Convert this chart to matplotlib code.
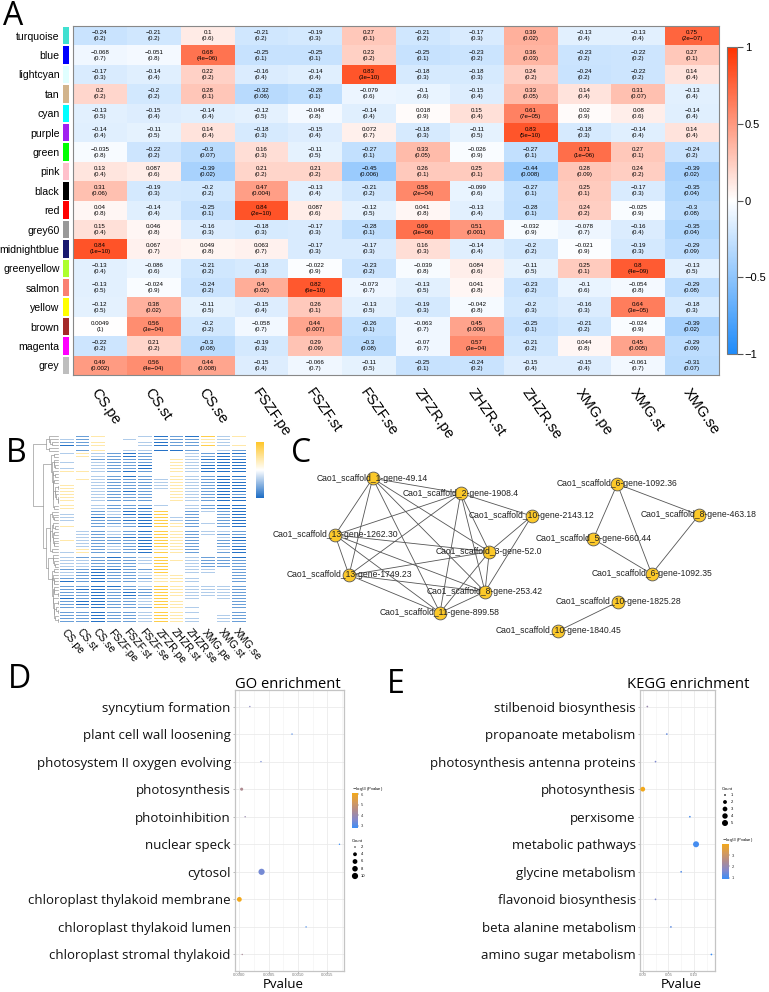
import numpy as np
import matplotlib
matplotlib.use("Agg")
import matplotlib.pyplot as plt
from matplotlib.colors import LinearSegmentedColormap, Normalize
from matplotlib.cm import ScalarMappable

plt.rcParams['font.family'] = ['Liberation Sans', 'DejaVu Sans']

# ---------------- Panel A data ----------------
modules = ["turquoise", "blue", "lightcyan", "tan", "cyan", "purple", "green", "pink", "black",
           "red", "grey60", "midnightblue", "greenyellow", "salmon", "yellow", "brown", "magenta", "grey"]
module_colors = ["#40E0D0", "#0000FF", "#E0FFFF", "#D2B48C", "#00FFFF", "#A020F0", "#00FF00", "#FFC0CB",
                 "#000000", "#FF0000", "#999999", "#191970", "#ADFF2F", "#FA8072", "#FFFF00", "#A52A2A",
                 "#FF00FF", "#BEBEBE"]
traits = ["CS.pe", "CS.st", "CS.se", "FSZF.pe", "FSZF.st", "FSZF.se",
          "ZFZR.pe", "ZHZR.st", "ZHZR.se", "XMG.pe", "XMG.st", "XMG.se"]
cor = [
    [-0.24, -0.21, 0.1, -0.21, -0.19, 0.27, -0.21, -0.17, 0.39, -0.13, -0.13, 0.75],
    [-0.068, -0.051, 0.68, -0.25, -0.25, 0.23, -0.25, -0.23, 0.36, -0.23, -0.22, 0.27],
    [-0.17, -0.14, 0.22, -0.16, -0.14, 0.83, -0.18, -0.18, 0.24, -0.24, -0.22, 0.14],
    [0.2, -0.2, 0.28, -0.32, -0.28, -0.079, -0.1, -0.15, 0.33, 0.14, 0.31, -0.13],
    [-0.13, -0.15, -0.14, -0.12, -0.048, -0.14, 0.018, 0.15, 0.61, 0.02, 0.08, -0.14],
    [-0.14, -0.11, 0.14, -0.18, -0.15, 0.072, -0.18, -0.11, 0.83, -0.18, -0.14, 0.14],
    [-0.035, -0.22, -0.3, 0.16, -0.11, -0.27, 0.33, -0.026, -0.27, 0.71, 0.27, -0.24],
    [0.13, 0.087, -0.39, 0.21, 0.21, -0.45, 0.26, 0.25, -0.44, 0.28, 0.24, -0.39],
    [0.31, -0.19, -0.2, 0.47, -0.13, -0.21, 0.58, -0.099, -0.27, 0.25, -0.17, -0.35],
    [0.04, -0.14, -0.25, 0.84, 0.087, -0.12, 0.041, -0.13, -0.28, 0.24, -0.025, -0.3],
    [0.15, 0.046, -0.16, -0.18, -0.17, -0.28, 0.69, 0.51, -0.032, -0.078, -0.16, -0.35],
    [0.84, 0.067, 0.049, 0.063, -0.17, -0.17, 0.16, -0.14, -0.2, -0.021, -0.19, -0.29],
    [-0.13, -0.086, -0.21, -0.18, -0.022, -0.23, -0.039, 0.084, -0.11, 0.25, 0.8, -0.13],
    [-0.13, -0.024, -0.24, 0.4, 0.82, -0.073, -0.13, 0.041, -0.23, -0.1, -0.054, -0.29],
    [-0.12, 0.38, -0.11, -0.15, 0.26, -0.13, -0.19, -0.042, -0.2, -0.16, 0.64, -0.18],
    [0.0049, 0.56, -0.2, -0.058, 0.44, -0.26, -0.063, 0.45, -0.25, -0.21, -0.024, -0.39],
    [-0.22, 0.21, -0.3, -0.19, 0.29, -0.3, -0.07, 0.57, -0.21, 0.044, 0.45, -0.29],
    [0.49, 0.56, 0.44, -0.15, -0.066, -0.11, -0.25, -0.24, -0.15, -0.15, -0.061, -0.31],
]
pval = [
    ["0.2", "0.2", "0.6", "0.2", "0.3", "0.1", "0.2", "0.3", "0.02", "0.4", "0.4", "2e-07"],
    ["0.7", "0.8", "4e-06", "0.1", "0.1", "0.2", "0.1", "0.2", "0.03", "0.2", "0.2", "0.1"],
    ["0.3", "0.4", "0.2", "0.4", "0.4", "3e-10", "0.3", "0.3", "0.2", "0.2", "0.2", "0.4"],
    ["0.2", "0.2", "0.1", "0.06", "0.1", "0.6", "0.6", "0.4", "0.05", "0.4", "0.07", "0.4"],
    ["0.5", "0.4", "0.4", "0.5", "0.8", "0.4", "0.9", "0.4", "7e-05", "0.9", "0.6", "0.4"],
    ["0.4", "0.5", "0.4", "0.3", "0.4", "0.7", "0.3", "0.5", "5e-10", "0.3", "0.4", "0.4"],
    ["0.8", "0.2", "0.07", "0.3", "0.5", "0.1", "0.05", "0.9", "0.1", "1e-06", "0.1", "0.2"],
    ["0.4", "0.6", "0.02", "0.2", "0.2", "0.006", "0.1", "0.1", "0.008", "0.09", "0.2", "0.02"],
    ["0.06", "0.3", "0.2", "0.004", "0.4", "0.2", "2e-04", "0.6", "0.1", "0.1", "0.3", "0.04"],
    ["0.8", "0.4", "0.1", "2e-10", "0.6", "0.5", "0.8", "0.4", "0.1", "0.2", "0.9", "0.08"],
    ["0.4", "0.8", "0.3", "0.3", "0.3", "0.1", "3e-06", "0.001", "0.9", "0.7", "0.4", "0.04"],
    ["1e-10", "0.7", "0.8", "0.7", "0.3", "0.3", "0.3", "0.4", "0.2", "0.9", "0.3", "0.09"],
    ["0.4", "0.6", "0.2", "0.3", "0.9", "0.2", "0.8", "0.6", "0.5", "0.1", "4e-09", "0.5"],
    ["0.5", "0.9", "0.2", "0.02", "6e-10", "0.7", "0.5", "0.8", "0.2", "0.6", "0.8", "0.08"],
    ["0.5", "0.02", "0.5", "0.4", "0.1", "0.5", "0.3", "0.8", "0.3", "0.3", "3e-05", "0.3"],
    ["1", "3e-04", "0.2", "0.7", "0.007", "0.1", "0.7", "0.006", "0.1", "0.2", "0.9", "0.02"],
    ["0.2", "0.2", "0.08", "0.3", "0.09", "0.08", "0.7", "3e-04", "0.2", "0.8", "0.005", "0.09"],
    ["0.002", "4e-04", "0.008", "0.4", "0.7", "0.5", "0.1", "0.2", "0.4", "0.4", "0.7", "0.07"],
]

# ---------------- Panel B data (expression levels read per row) ----------------
# Y strong yellow, y light yellow, w white, l light blue, m blue, b dark blue
b_cols = traits
b_rows = [
    "ywmlmbYymwmb", "wwmmmbYymlmb", "wymlmbyymwlb", "lwmlbbYwmwmb", "wlmmmbYymwmm",
    "ywmlmbYymlmb", "wlmmbbYymwlb", "lwbmmbYlmwmb", "wlmlmbYymllm", "ylmmmbYymwmb",
    "wwmlbmYwmlmb", "lymmmbYymwmb", "wlmlmmYymlmm", "lwmmbbYlmwmb", "wlmlmbYymwmb",
    "llmmmlYwlmmm", "lmmbmlYwlmmb", "llmmmlYylmmm", "mlbmmlYwlmbm", "llmmmwYwlmmm",
    "mmbmmlYylwwm", "mbbmmmYylllm", "mmbmmlYywwlm", "bmbmmlyylwwm", "mmbbmmYwllwm",
    "mmbmmlYylwlm", "mbbmmlYywwwm", "mmbmbmYylllm", "mmbmmlyylwwb", "bmbmmlYwlwlm",
    "mmbmmmYylwwm", "mmbbmlYylllm", "mbbmmlYywwwm", "mmbmmlYylwlm", "mmbmmmyylwwm",
    "lmbmmlYwllwm", "mmbmmlYylwwm", "mmbmbmYylllm", "lmbmmlyywwwm",
    "ywlmmmwylmbb", "wylmbmwylmbb", "ywlmmmlwlmbb", "wwlmmbwylbbb", "ywlmmmwylmbm",
    "lylmbmwwlmbb", "ywlmmmlylmbb", "wwmmmmwylbbb", "ywlmbmwylmbb", "wylmmmlylmbm",
    "ywlmmbwwlmbb", "lwlmmmwylmbb", "yylmbmwylbbb", "wwlmmmlylmbb", "ywlmmmwylmbb",
    "wylmbmwwlmbm", "ywlmmmwylmbb", "lwlmmbwylbbb", "ywlmmmlylmbb", "wwlmbmwylmbb",
    "bmywlwbmmwlm", "mmywwlbmmylw", "wmywllbbmwlm", "bmywwlbmmYly", "lmwwlwmmmylw",
    "wmywwlbmbYly",
]
b_levels = {"Y": 0.85, "y": 0.4, "w": 0.0, "l": -0.35, "m": -0.65, "b": -0.95}

# ---------------- Panel C data (network) ----------------
node_names = ["Cao1_scaffold_1-gene-49.14", "Cao1_scaffold_2-gene-1908.4", "Cao1_scaffold_10-gene-2143.12",
              "Cao1_scaffold_13-gene-1262.30", "Cao1_scaffold_3-gene-52.0", "Cao1_scaffold_13-gene-1749.23",
              "Cao1_scaffold_8-gene-253.42", "Cao1_scaffold_11-gene-899.58", "Cao1_scaffold_6-gene-1092.36",
              "Cao1_scaffold_8-gene-463.18", "Cao1_scaffold_5-gene-660.44", "Cao1_scaffold_6-gene-1092.35",
              "Cao1_scaffold_10-gene-1825.28", "Cao1_scaffold_10-gene-1840.45"]
layout_x = [372.7, 460.7, 531.7, 335.0, 489.3, 349.0, 485.0, 440.0, 617.3, 699.0, 593.3, 651.7, 618.3, 558.3]
layout_y = [478.3, 493.3, 516.0, 535.0, 551.7, 575.0, 591.7, 612.7, 484.0, 515.0, 539.0, 574.0, 601.7, 631.0]
core = [0, 1, 3, 4, 5, 6, 7]
edges = [(a, b) for i, a in enumerate(core) for b in core[i + 1:]]
edges += [(2, 1), (2, 4), (2, 6), (8, 10), (8, 11), (8, 9), (10, 11), (9, 11), (12, 13)]

# ---------------- Panel D / E data ----------------
go_terms = ["syncytium formation", "plant cell wall loosening", "photosystem II oxygen evolving",
            "photosynthesis", "photoinhibition", "nuclear speck", "cytosol",
            "chloroplast thylakoid membrane", "chloroplast thylakoid lumen", "chloroplast stromal thylakoid"]
go_p = [0.00018, 0.0009, 0.00037, 0.00004, 0.0001, 0.00171, 0.00038, 8.5e-7, 0.00114, 0.00005]
go_count = [2, 2, 2, 3, 2, 2, 10, 6, 2, 2]
kegg_terms = ["stilbenoid biosynthesis", "propanoate metabolism", "photosynthesis antenna proteins",
              "photosynthesis", "perxisome", "metabolic pathways", "glycine metabolism",
              "flavonoid biosynthesis", "beta alanine metabolism", "amino sugar metabolism"]
kegg_p = [0.009, 0.047, 0.025, 0.0001, 0.092, 0.104, 0.075, 0.025, 0.055, 0.134]
kegg_count = [1, 1, 1, 3, 1, 5, 1, 1, 1, 1]

# =====================================================================
W, H = 769, 992
fig = plt.figure(figsize=(W / 100, H / 100), dpi=100)


def px_axes(x0, y0, x1, y1):
    return fig.add_axes([x0 / W, 1 - y1 / H, (x1 - x0) / W, (y1 - y0) / H])


def fmt_num(v):
    s = repr(float(v))
    if s.endswith(".0"):
        s = s[:-2]
    return s.replace("-", "\u2212")


# ---------------- Panel A ----------------
cmapA = LinearSegmentedColormap.from_list("bwr_w", [(0, "#1E8BFA"), (0.5, "#FFFFFF"), (1, "#FF3300")])
corA = np.array(cor)
nr, nc = corA.shape
axA = px_axes(73, 26, 719, 375)
axA.pcolormesh(np.arange(nc + 1), np.arange(nr + 1), corA, cmap=cmapA, vmin=-1, vmax=1)
axA.set_xlim(0, nc)
axA.set_ylim(nr, 0)
for i in range(nr):
    for j in range(nc):
        axA.text(j + 0.5, i + 0.5, fmt_num(corA[i, j]) + "\n(" + pval[i][j].replace("-", "\u2212") + ")",
                 ha="center", va="center", fontsize=4.4, linespacing=1.25)
axA.set_yticks([])
axA.set_xticks(np.arange(nc) + 0.5)
axA.set_xticklabels(traits, rotation=-55, ha="left", va="top", rotation_mode="anchor", fontsize=10.5)
axA.tick_params(axis="x", length=0, pad=8)
for s in axA.spines.values():
    s.set_color("#888888")
    s.set_linewidth(0.8)

axS = px_axes(63, 26, 69, 375)
axS.barh(np.arange(nr) + 0.5, np.ones(nr), height=0.9, color=module_colors, left=0)
axS.set_ylim(nr, 0)
axS.set_xlim(0, 1)
axS.set_xticks([])
axS.set_yticks(np.arange(nr) + 0.5)
axS.set_yticklabels(modules, fontsize=7.6)
axS.tick_params(axis="y", length=0, pad=2.5)
for s in axS.spines.values():
    s.set_visible(False)

caxA = px_axes(727, 47, 737, 354)
cbA = fig.colorbar(ScalarMappable(norm=Normalize(-1, 1), cmap=cmapA), cax=caxA)
cbA.set_ticks([-1, -0.5, 0, 0.5, 1])
cbA.set_ticklabels(["\u22121", "\u22120.5", "0", "0.5", "1"])
cbA.ax.tick_params(labelsize=8, length=4, width=0.8, color="#555555", pad=1.5)
cbA.outline.set_edgecolor("#777777")
cbA.outline.set_linewidth(0.8)

# ---------------- Panel B ----------------
XB = np.array([[b_levels[c] for c in r] for r in b_rows])


def avg_linkage(X):
    n = X.shape[0]
    D = np.sqrt(((X[:, None, :] - X[None, :, :]) ** 2).sum(-1))
    N = 2 * n - 1
    M = np.full((N, N), np.inf)
    M[:n, :n] = D
    np.fill_diagonal(M, np.inf)
    size = np.zeros(N)
    size[:n] = 1
    active = list(range(n))
    children = {}
    height = np.zeros(N)
    for k in range(n - 1):
        idx = np.array(active)
        sub = M[np.ix_(idx, idx)]
        a, b = np.unravel_index(np.argmin(sub), sub.shape)
        i, j = int(idx[a]), int(idx[b])
        new = n + k
        for m in active:
            if m in (i, j):
                continue
            d = (size[i] * M[i, m] + size[j] * M[j, m]) / (size[i] + size[j])
            M[new, m] = M[m, new] = d
        size[new] = size[i] + size[j]
        height[new] = M[i, j]
        children[new] = (i, j)
        active.remove(i)
        active.remove(j)
        active.append(new)
    return children, height, n, 2 * n - 2


children, heights, nleaf, root = avg_linkage(XB)


def leaf_order(node):
    if node < nleaf:
        return [node]
    a, b = children[node]
    return leaf_order(a) + leaf_order(b)


order = leaf_order(root)
pos = {}
for k, leaf in enumerate(order):
    pos[leaf] = k + 0.5


def node_pos(node):
    if node in pos:
        return pos[node]
    a, b = children[node]
    pos[node] = (node_pos(a) + node_pos(b)) / 2
    return pos[node]


node_pos(root)

axD = px_axes(33, 435, 59, 623)
for new, (a, b) in children.items():
    h = heights[new]
    axD.plot([heights[a], h, h, heights[b]], [pos[a], pos[a], pos[b], pos[b]], color="#9A9A9A", lw=0.5)
axD.set_ylim(nleaf, 0)
axD.set_xlim(heights[root] * 1.02, -heights[root] * 0.03)
axD.axis("off")

cmapB = LinearSegmentedColormap.from_list("byw", [(0, "#1C6CC4"), (0.5, "#FFFFFF"), (1, "#FFC629")])
axB = px_axes(59, 435, 247, 623)
axB.pcolormesh(np.arange(len(b_cols) + 1), np.arange(nleaf + 1), XB[order], cmap=cmapB, vmin=-1, vmax=1,
               edgecolors="white", linewidth=0.2)
axB.set_ylim(nleaf, 0)
axB.set_xlim(0, len(b_cols))
axB.set_yticks([])
axB.set_xticks(np.arange(len(b_cols)) + 0.5)
axB.set_xticklabels(b_cols, rotation=-50, ha="left", va="top", rotation_mode="anchor", fontsize=7.5)
axB.tick_params(axis="x", length=0, pad=3)
for s in axB.spines.values():
    s.set_visible(False)

caxB = px_axes(256, 442, 264, 498)
cbB = fig.colorbar(ScalarMappable(norm=Normalize(-1, 1), cmap=cmapB), cax=caxB)
cbB.set_ticks([])
cbB.outline.set_visible(False)

# ---------------- Panel C ----------------
axC = px_axes(250, 420, 769, 645)
for a, b in edges:
    axC.plot([layout_x[a], layout_x[b]], [layout_y[a], layout_y[b]], color="#555555", lw=0.6, zorder=1)
axC.scatter(layout_x, layout_y, s=85, color="#FCC92A", edgecolors="#555555", linewidths=0.6, zorder=2)
for name, x, y in zip(node_names, layout_x, layout_y):
    axC.text(x, y, name, ha="center", va="center", fontsize=6.2, color="#222222", zorder=3)
axC.set_xlim(250, 769)
axC.set_ylim(645, 420)
axC.axis("off")

# ---------------- Panels D and E ----------------
cmap_dot = LinearSegmentedColormap.from_list("dot", ["#3A8EF6", "#8589CB", "#AF8B90", "#D59A5A", "#F2A81B"])
of = ["Open Sans", "DejaVu Sans"]


def size_px(counts, dmin, dmax):
    c = np.asarray(counts, float)
    t = np.sqrt((c - c.min()) / (c.max() - c.min()))
    return dmin + (dmax - dmin) * t


def dot_panel(rect, terms, p, counts, xlim, major, minor, ticklabels, dmin, dmax):
    ax = px_axes(*rect)
    y = np.arange(len(terms))[::-1] + 1
    nl = -np.log10(np.array(p))
    d = size_px(counts, dmin, dmax)
    ax.scatter(p, y, s=(d * 0.72) ** 2, c=nl, cmap=cmap_dot, vmin=nl.min(), vmax=nl.max(),
               edgecolors="none", zorder=3)
    ax.set_xlim(*xlim)
    ax.set_ylim(0.4, len(terms) + 0.6)
    ax.set_xticks(major)
    ax.set_xticks(minor, minor=True)
    ax.set_xticklabels(ticklabels)
    ax.set_yticks(y)
    ax.set_yticklabels(terms, fontsize=9.5, family=of, color="#111111")
    ax.grid(which="major", color="#EBEBEB", lw=0.6)
    ax.grid(which="minor", axis="x", color="#F2F2F2", lw=0.4)
    ax.set_axisbelow(True)
    ax.tick_params(axis="x", labelsize=3, colors="#777777", length=1.2, width=0.4, pad=0.5)
    ax.tick_params(axis="x", which="minor", length=0)
    ax.tick_params(axis="y", length=1.5, width=0.4, color="#888888", pad=1.5)
    for s in ax.spines.values():
        s.set_color("#C4C4C4")
        s.set_linewidth(0.9)
    return ax, nl


axGO, nlGO = dot_panel((235, 690, 344, 971), go_terms, go_p, go_count, (-0.0000734, 0.001787),
                       [0, 0.0005, 0.001, 0.0015], [0.00025, 0.00075, 0.00125, 0.00175],
                       ["0.0000", "0.0005", "0.0010", "0.0015"], 1.4, 6.2)
axKE, nlKE = dot_panel((640, 690, 715, 971), kegg_terms, kegg_p, kegg_count, (-0.0053, 0.141),
                       [0, 0.05, 0.1], [0.025, 0.075, 0.125], ["0.00", "0.05", "0.10"], 1.7, 6.0)

fig.text(235 / W, 1 - 688 / H, "GO enrichment", fontsize=10.6, family=of, ha="left", va="baseline")
fig.text(627 / W, 1 - 688 / H, "KEGG enrichment", fontsize=10.6, family=of, ha="left", va="baseline")
fig.text(283 / W, 1 - 991 / H, "Pvalue", fontsize=9.5, family=of, ha="center", va="bottom")
fig.text(681 / W, 1 - 991 / H, "Pvalue", fontsize=9.5, family=of, ha="center", va="bottom")


def color_legend(x0, y0, x1, y1, nl, ticks):
    cax = px_axes(x0, y0, x1, y1)
    cb = fig.colorbar(ScalarMappable(norm=Normalize(nl.min(), nl.max()), cmap=cmap_dot), cax=cax)
    cb.set_ticks(ticks)
    cb.set_ticklabels([str(t) for t in ticks])
    cb.ax.tick_params(labelsize=3, length=1, width=0.3, colors="#333333", pad=1)
    cb.outline.set_visible(False)
    fig.text(x0 / W, 1 - (y0 - 3) / H, r"$-\log_{10}$(Pvalue)", fontsize=3, ha="left", va="baseline")


def size_legend(x, y0, y1, levels, dmin, dmax):
    axL = px_axes(x - 4, y0 - 4, x + 14, y1 + 4)
    yy = np.linspace(y0, y1, len(levels))
    d = size_px(levels, dmin, dmax)
    axL.scatter(np.full(len(levels), x), yy, s=(d * 0.72) ** 2, color="black", edgecolors="none")
    for lv, yv in zip(levels, yy):
        axL.text(x + 6, yv, str(lv), fontsize=3, va="center", ha="left")
    axL.set_xlim(x - 4, x + 14)
    axL.set_ylim(y1 + 4, y0 - 4)
    axL.axis("off")
    fig.text((x - 3) / W, 1 - (y0 - 5) / H, "Count", fontsize=3, ha="left", va="baseline")


color_legend(351.7, 793.3, 358.3, 828.3, nlGO, [3, 4, 5, 6])
size_legend(355, 847, 876, [2, 4, 6, 8, 10], 1.4, 6.2)
size_legend(725, 795, 823, [1, 2, 3, 4, 5], 1.7, 6.0)
color_legend(722.3, 844, 729, 879, nlKE, [1, 2, 3])

# panel letters
for letter, x, y in [("A", 3, 0), ("B", 6, 437), ("C", 291, 437), ("D", 8, 663), ("E", 387, 668)]:
    fig.text(x / W, 1 - y / H, letter, fontsize=23, family=of, ha="left", va="top")

fig.savefig("out.png", dpi=100)
